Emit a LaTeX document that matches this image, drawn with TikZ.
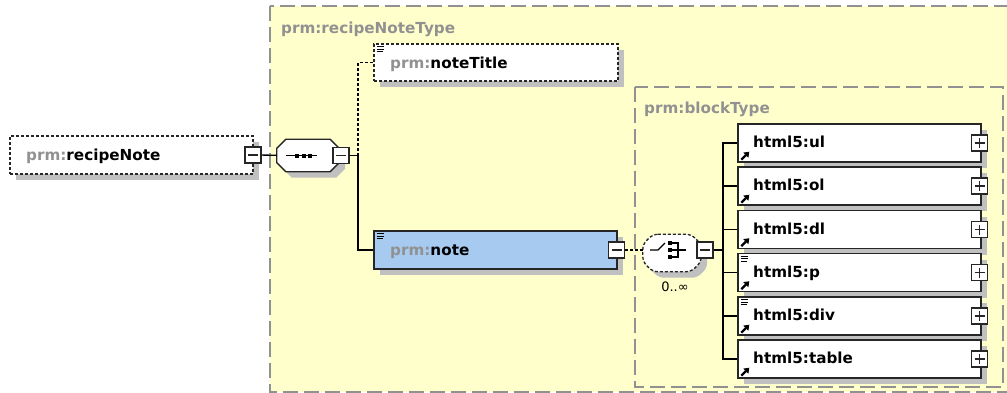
\documentclass[tikz,border=0pt]{standalone}
\usepackage{fontspec}
\setmainfont{DejaVu Sans}
\usetikzlibrary{shadows,arrows.meta}
\definecolor{XsdYellow}{RGB}{255,255,204}
\definecolor{XsdBlue}{RGB}{166,202,240}
\definecolor{XsdGray}{RGB}{145,145,145}
\definecolor{XsdShadow}{RGB}{192,192,192}
\newcommand{\pfx}[1]{\textcolor{XsdGray}{#1}}
\newcommand{\docmark}[1]{%
  \draw[line width=.9pt] ([xshift=3.5pt,yshift=-3.5pt]#1.north west) -- ++(7,0);
  \draw[line width=.9pt] ([xshift=3.5pt,yshift=-6pt]#1.north west) -- ++(7,0);
  \draw[line width=.9pt] ([xshift=3.5pt,yshift=-8.5pt]#1.north west) -- ++(6,0);}
\newcommand{\refmark}[1]{%
  \draw[line width=2.2pt,-{Triangle[length=5pt,width=7pt]}] ([xshift=4pt,yshift=3pt]#1.south west) -- ++(8,-8);}
% octagon round a named node: name, cut, style
\newcommand{\octo}[3]{%
  \draw[#3] ([xshift=#2]#1.north west) -- ([xshift=-#2]#1.north east) -- ([yshift=-#2]#1.north east) -- ([yshift=#2]#1.south east) -- ([xshift=-#2]#1.south east) -- ([xshift=#2]#1.south west) -- ([yshift=#2]#1.south west) -- ([yshift=-#2]#1.north west) -- cycle;}

\begin{document}
\begin{tikzpicture}[x=1pt,y=-1pt]
				\tikzstyle{every node}=[inner sep=0pt, font=\fontsize{15.2}{17}\selectfont\bfseries];
				\tikzstyle{grp}=[draw=XsdGray, fill=XsdYellow, line width=1.4pt, dash pattern=on 15pt off 6pt];
				\tikzstyle{elem}=[draw=black!85, line width=1.4pt, fill=white, minimum width=243pt, minimum height=38pt, drop shadow={shadow xshift=6pt, shadow yshift=-6pt, fill=XsdShadow, opacity=1}];
				\tikzstyle{optline}=[dash pattern=on 3pt off 2pt];
				\tikzstyle{conn}=[line width=1.3pt];
				\tikzstyle{compositor}=[draw=black!85, line width=1.3pt, fill=white, drop shadow={shadow xshift=6pt, shadow yshift=-6pt, fill=XsdShadow, opacity=1}];
				\tikzstyle{minusbox}=[draw=black!85, line width=1.3pt, fill=white, minimum size=16pt, path picture={\draw[line width=1.2pt] ([xshift=3pt]path picture bounding box.west) -- ([xshift=-3pt]path picture bounding box.east);}];
				\tikzstyle{plusbox}=[draw=black!85, line width=1.3pt, fill=white, minimum size=16pt, path picture={\draw[line width=1.2pt] ([xshift=3pt]path picture bounding box.west) -- ([xshift=-3pt]path picture bounding box.east); \draw[line width=1.2pt] ([yshift=3pt]path picture bounding box.south) -- ([yshift=-3pt]path picture bounding box.north);}];
				\useasboundingbox (0,0) rectangle (1007,392);
				\clip (0,0) rectangle (1007,392);
				% complex types
				\draw[grp] (270,6) rectangle (1020,392);
				\node[anchor=base west, text=XsdGray] (g01) at (281,33) {prm:recipeNoteType};
				\draw[grp] (635,87) rectangle (1003,387);
				\node[anchor=base west, text=XsdGray] (g02) at (644,113) {prm:blockType};
				% root element
				\node[elem, optline] (root) at (131.5,155) {};
				\node[anchor=base west] (t00) at (26,160) {\pfx{prm:}recipeNote};
				\node[minusbox] (m00) at (253,155) {};
				% sequence
				\node[minimum width=62pt, minimum height=32pt] (seq) at (308,155.5) {};
				\octo{seq}{9pt}{compositor}
				\draw[conn] (286,155.5) -- (317,155.5);
				\fill (295,153.5) rectangle (299,157.5);
				\fill (301.5,153.5) rectangle (305.5,157.5);
				\fill (308,153.5) rectangle (312,157.5);
				\node[minusbox] (m01) at (341,155.5) {};
				\coordinate (j1) at (358,155.5);
				\draw[conn] (m00) -- (seq);
				\draw[conn] (m01) -- (j1);
				% noteTitle and note
				\node[elem, optline, minimum width=244pt, minimum height=37pt] (n01) at (496,62.5) {};
				\node[anchor=base west] (t01) at (390,68) {\pfx{prm:}noteTitle};
				\docmark{n01}
				\node[elem, fill=XsdBlue] (n02) at (495.5,250) {};
				\node[anchor=base west] (t02) at (390,255) {\pfx{prm:}note};
				\docmark{n02}
				\node[minusbox] (m02) at (616.5,250) {};
				\draw[conn, optline] (j1) |- (n01);
				\draw[conn] (j1) |- (n02);
				% choice
				\node[minimum width=58pt, minimum height=37pt] (ch) at (672,253) {};
				\octo{ch}{10pt}{compositor, optline, rounded corners=5pt}
				\draw[line width=1.1pt] (650,250) -- (658,250) -- (665,243);
				\fill (668,241) rectangle (672,245);
				\fill (668,248) rectangle (672,252);
				\fill (668,255) rectangle (672,259);
				\draw[line width=1.1pt] (672,243) -- (678,243) -- (678,257) -- (672,257);
				\draw[line width=1.1pt] (672,250) -- (686,250);
				\node[font=\fontsize{13}{15}\selectfont] (occ) at (675,287) {0..∞};
				\node[minusbox] (m03) at (705,250) {};
				\draw[conn, optline] (m02) -- (m02 -| ch.west);
				\coordinate (j2) at (723,250);
				\draw[conn] (m03) -- (j2);
				% html5 elements
				\node[elem] (h1) at (859.5,143) {};
				\node[anchor=base west] (t11) at (753,147.5) {html5:ul};
				\node[plusbox] (p1) at (979.5,143) {};
				\refmark{h1}
				\node[elem] (h2) at (859.5,186) {};
				\node[anchor=base west] (t12) at (753,190.5) {html5:ol};
				\node[plusbox] (p2) at (979.5,186) {};
				\refmark{h2}
				\node[elem] (h3) at (859.5,229.5) {};
				\node[anchor=base west] (t13) at (753,234) {html5:dl};
				\node[plusbox] (p3) at (979.5,229.5) {};
				\refmark{h3}
				\node[elem] (h4) at (859.5,272.5) {};
				\node[anchor=base west] (t14) at (753,277) {html5:p};
				\node[plusbox] (p4) at (979.5,272.5) {};
				\docmark{h4}
				\refmark{h4}
				\node[elem] (h5) at (859.5,316) {};
				\node[anchor=base west] (t15) at (753,320.5) {html5:div};
				\node[plusbox] (p5) at (979.5,316) {};
				\docmark{h5}
				\refmark{h5}
				\node[elem] (h6) at (859.5,359) {};
				\node[anchor=base west] (t16) at (753,363.5) {html5:table};
				\node[plusbox] (p6) at (979.5,359) {};
				\refmark{h6}
				\draw[conn] (j2) |- (h1);
				\draw[conn] (j2) |- (h2);
				\draw[conn] (j2) |- (h3);
				\draw[conn] (j2) |- (h4);
				\draw[conn] (j2) |- (h5);
				\draw[conn] (j2) |- (h6);
\end{tikzpicture}
\end{document}
